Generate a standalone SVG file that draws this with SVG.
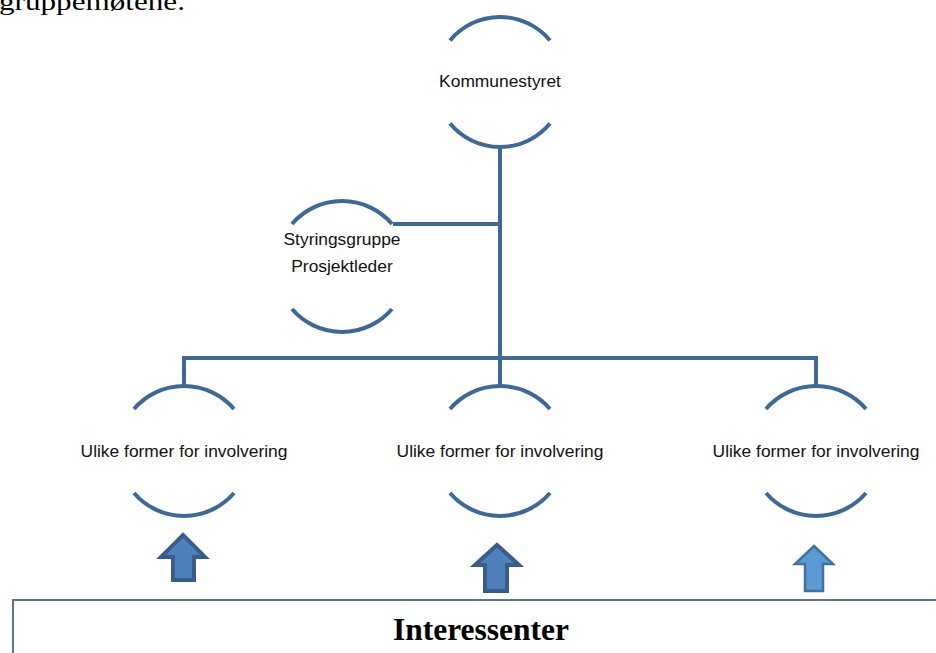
<svg xmlns="http://www.w3.org/2000/svg" width="936" height="653" viewBox="0 0 936 653">
<style>
.arc{fill:none;stroke:#3e6898;stroke-width:4}
.con{fill:none;stroke:#3e6898;stroke-width:4}
.lbl{font-family:"Liberation Sans",Arial,sans-serif;font-size:17.4px;fill:#111;text-anchor:middle}
.ar1{fill:#4f81bd;stroke:#385d8a;stroke-width:4}
.ar2{fill:#5b9bd5;stroke:#41719c;stroke-width:2.5}
</style>
<rect width="936" height="653" fill="#fff"/>
<text x="-1" y="10" font-family="Liberation Serif,Times New Roman,serif" font-size="26" textLength="186" lengthAdjust="spacingAndGlyphs" fill="#000">gruppemøtene.</text>
<g id="connectors">
<path class="con" d="M500,147 V358 M393,224 H500 M182,358 H818 M184,358 V385 M500,358 V385 M816,358 V385"/>
</g>
<g id="kommunestyret">
<path class="arc" d="M450,40.5 A65,65 0 0 1 550,40.5 M450,123.5 A65,65 0 0 0 550,123.5"/>
<text class="lbl" x="500" y="87">Kommunestyret</text>
</g>
<g id="styringsgruppe">
<path class="arc" d="M292,224 A66,66 0 0 1 392,224 M292,309 A66,66 0 0 0 392,309"/>
<text class="lbl" x="342" y="245">Styringsgruppe</text>
<text class="lbl" x="342" y="272">Prosjektleder</text>
</g>
<g id="involvering1">
<path class="arc" d="M134,409 A66,66 0 0 1 234,409 M134,493 A66,66 0 0 0 234,493"/>
<text class="lbl" x="184" y="457">Ulike former for involvering</text>
</g>
<g id="involvering2">
<path class="arc" d="M450,409 A66,66 0 0 1 550,409 M450,493 A66,66 0 0 0 550,493"/>
<text class="lbl" x="500" y="457">Ulike former for involvering</text>
</g>
<g id="involvering3">
<path class="arc" d="M766,409 A66,66 0 0 1 866,409 M766,493 A66,66 0 0 0 866,493"/>
<text class="lbl" x="816" y="457">Ulike former for involvering</text>
</g>
<g id="arrow1"><path class="ar1" d="M183,535 L205,557 L194,557 L194,580 L173,580 L173,557 L161,557 Z"/></g>
<g id="arrow2"><path class="ar1" d="M497,545 L519,565 L507,565 L507,591 L485,591 L485,565 L475,565 Z"/></g>
<g id="arrow3"><path class="ar2" d="M814,546 L833,564 L823,564 L823,591 L805,591 L805,564 L795,564 Z"/></g>
<g id="interessenter">
<rect x="13" y="600" width="940" height="70" fill="#fff" stroke="#5b7697" stroke-width="2"/>
<text x="481" y="640" font-family="Liberation Serif,Times New Roman,serif" font-size="31.5" font-weight="bold" text-anchor="middle" fill="#000">Interessenter</text>
</g>
</svg>
